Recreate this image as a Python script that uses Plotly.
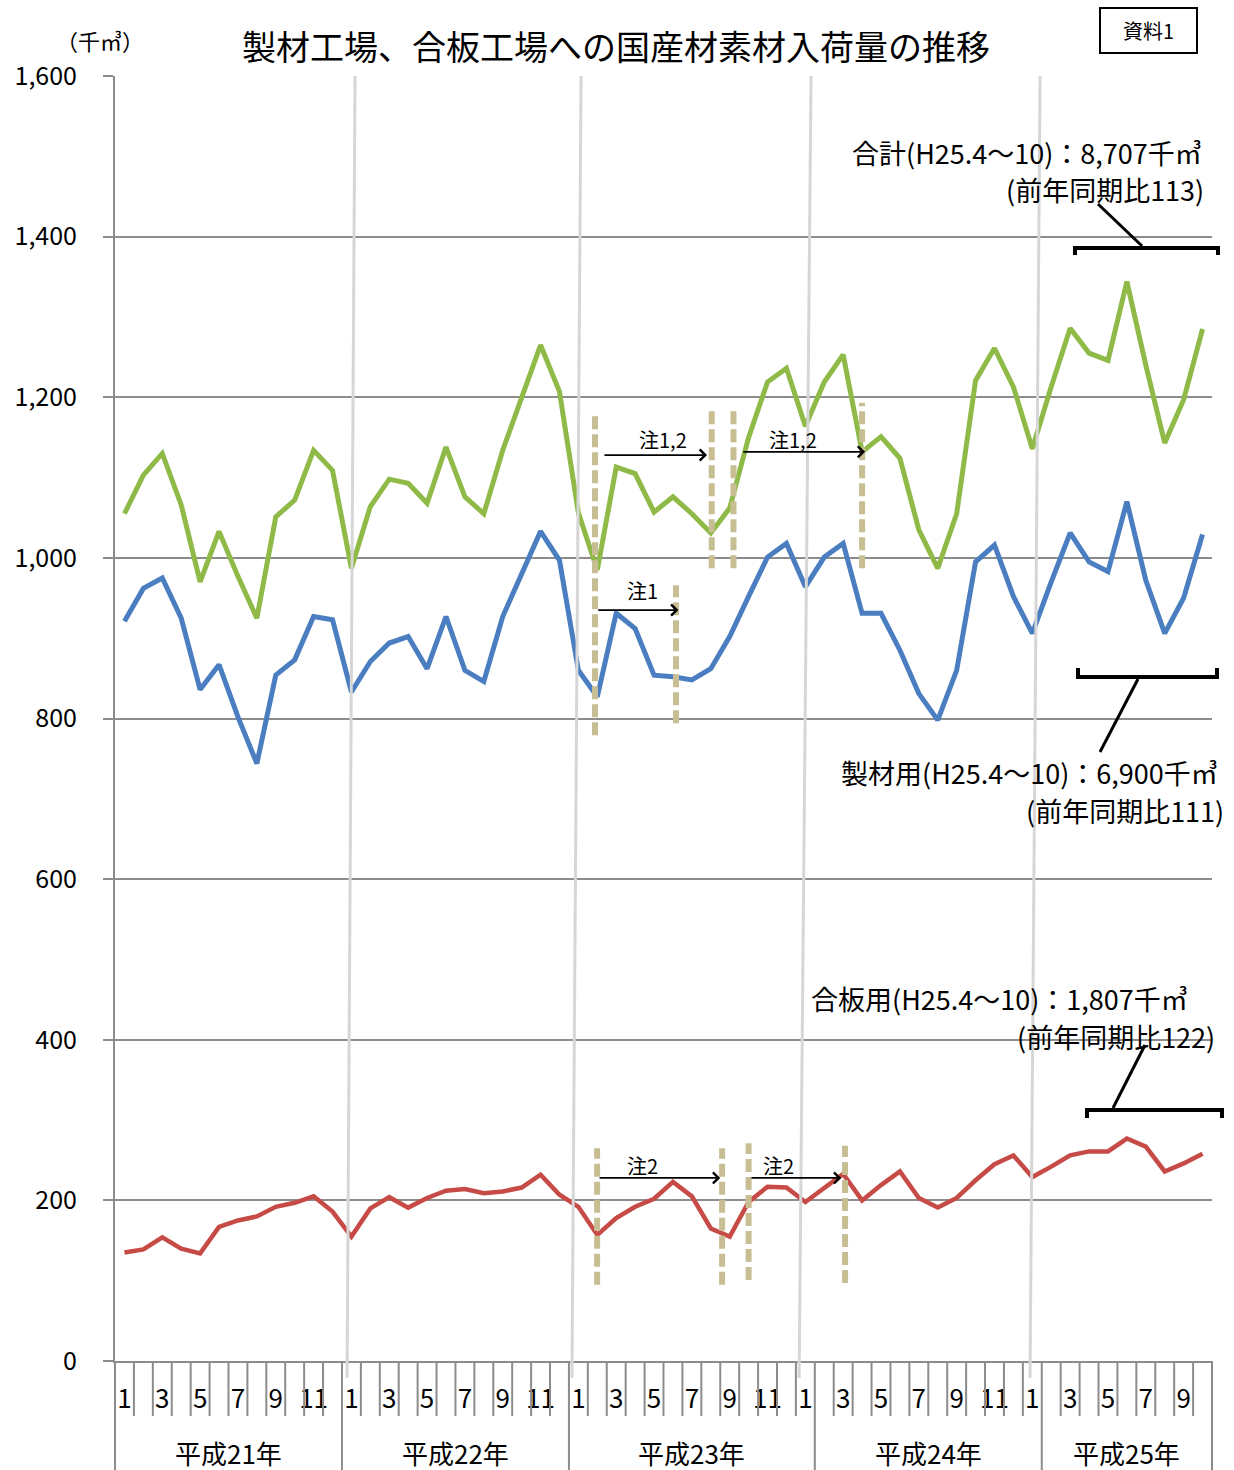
import plotly.graph_objects as go

# ---------------- data ----------------
years = ["平成21年", "平成22年", "平成23年", "平成24年", "平成25年"]
months_per_year = [12, 12, 12, 12, 10]

total = [1055, 1103, 1130, 1066, 970, 1033, 977, 925, 1051, 1072, 1134, 1109,
         987, 1064, 1098, 1093, 1068, 1138, 1076, 1055, 1134, 1201, 1265, 1207,
         1056, 985, 1113, 1105, 1057, 1076, 1055, 1031, 1062, 1150, 1219, 1236,
         1164, 1219, 1253, 1132, 1151, 1124, 1035, 987, 1055, 1221, 1261, 1213,
         1136, 1213, 1286, 1255, 1246, 1344, 1240, 1143, 1197, 1285]
sawmill = [921, 962, 975, 925, 836, 867, 802, 744, 854, 873, 927, 923,
           833, 871, 894, 902, 862, 927, 860, 846, 927, 981, 1033, 997,
           860, 827, 931, 912, 854, 852, 848, 862, 902, 952, 1001, 1018,
           964, 1001, 1018, 931, 931, 885, 831, 798, 860, 995, 1016, 952,
           906, 970, 1031, 995, 983, 1070, 972, 906, 950, 1029]
plywood = [135, 139, 154, 140, 134, 167, 175, 180, 192, 197, 205, 186,
           155, 190, 204, 191, 203, 212, 214, 209, 211, 216, 232, 207,
           192, 157, 178, 192, 202, 223, 205, 165, 155, 198, 217, 216,
           198, 215, 233, 200, 219, 236, 203, 191, 203, 225, 245, 256,
           229, 242, 256, 261, 261, 277, 267, 236, 246, 258]

y_ticks = [0, 200, 400, 600, 800, 1000, 1200, 1400, 1600]

# month index and labels
month_no = []
for n in months_per_year:
    month_no += list(range(1, n + 1))
x = list(range(len(month_no)))
tickvals = [i for i, m in enumerate(month_no) if m % 2 == 1]
ticktext = [str(month_no[i]) for i in tickvals]

FONT = "Noto Sans CJK JP, Noto Sans, sans-serif"
GREEN = "#8fba48"
BLUE = "#4a7ec0"
RED = "#c64a45"
TAN = "#c8be93"
GRID = "#8c8c8c"

# plot area in pixels (for decorations)
L, R, T, B = 115, 1212, 76, 1361


def PX(px):
    return (px - L) / (R - L)


def PY(py):
    return (B - py) / (B - T)


fig = go.Figure()
for name, vals, col, w in [("合計", total, GREEN, 5),
                           ("製材用", sawmill, BLUE, 5),
                           ("合板用", plywood, RED, 4.5)]:
    fig.add_trace(go.Scatter(x=x, y=vals, mode="lines", name=name,
                             line=dict(color=col, width=w), hoverinfo="skip"))

shapes = []
# month tick separators below axis
year_bounds = [11.5, 23.5, 36.5, 48.5]
for k in range(len(x) - 1):
    xv = k + 0.5
    if xv in year_bounds:
        continue
    shapes.append(dict(type="line", xref="x", yref="paper", x0=xv, x1=xv,
                       y0=0, y1=PY(1416), line=dict(color=GRID, width=2)))
for xv in year_bounds:
    shapes.append(dict(type="line", xref="x", yref="paper", x0=xv, x1=xv,
                       y0=0, y1=PY(1472), line=dict(color=GRID, width=2)))
for xp in [0, 1]:
    shapes.append(dict(type="line", xref="paper", yref="paper", x0=xp, x1=xp,
                       y0=0, y1=PY(1472), line=dict(color=GRID, width=2)))

# light slanted year separators
for xt, xb in [(12.19, 11.77), (24.14, 23.66), (36.30, 35.67), (48.41, 47.88)]:
    shapes.append(dict(type="line", xref="x", yref="paper", x0=xt, x1=xb,
                       y0=1, y1=PY(1378), line=dict(color="#d6d6d6", width=3),
                       layer="above"))

# tan dashed lines (notes)
for xv, y0, y1 in [(24.88, 779, 1180), (31.05, 987, 1187), (32.2, 987, 1187),
                   (39.0, 987, 1193), (29.16, 794, 966),
                   (24.99, 95, 265), (31.6, 95, 265), (33.0, 101, 271),
                   (38.1, 97, 268)]:
    shapes.append(dict(type="line", xref="x", yref="y", x0=xv, x1=xv,
                       y0=y0, y1=y1, layer="above",
                       line=dict(color=TAN, width=6, dash="13px,5px")))

# brackets
def bracket(x0, x1, yb, ye):
    return dict(type="path", xref="paper", yref="paper",
                path=f"M{PX(x0)},{PY(ye)} L{PX(x0)},{PY(yb)} L{PX(x1)},{PY(yb)} L{PX(x1)},{PY(ye)}",
                line=dict(color="black", width=4), layer="above")


shapes.append(bracket(1075, 1218, 248, 255))
shapes.append(bracket(1078, 1217, 677, 668))
shapes.append(bracket(1087, 1222, 1110, 1118))
for (a, b), (c, d) in [((1142, 246), (1098, 204)), ((1138, 679), (1100, 752)),
                       ((1113, 1108), (1145, 1045))]:
    shapes.append(dict(type="line", xref="paper", yref="paper",
                       x0=PX(a), y0=PY(b), x1=PX(c), y1=PY(d),
                       line=dict(color="black", width=3)))

# 資料1 box
shapes.append(dict(type="rect", xref="paper", yref="paper",
                   x0=PX(1100), x1=PX(1197), y0=PY(8), y1=PY(53),
                   line=dict(color="black", width=2)))

annotations = []
# year labels
for label, xc in zip(years, [5.5, 17.5, 30.0, 42.5, 53.0]):
    annotations.append(dict(text=label, x=xc, xref="x", y=PY(1452), yref="paper",
                            showarrow=False, font=dict(size=26, color="black"),
                            xanchor="center", yanchor="middle"))

# arrows
for (xh, yh, xt, yt) in [(30.80, 1128, 25.30, 1128), (39.16, 1132, 32.64, 1132),
                         (29.29, 935, 24.97, 935),
                         (31.5, 228, 25.04, 228), (37.9, 228, 33.07, 228)]:
    annotations.append(dict(text="", x=xh, y=yh, ax=xt, ay=yt, xref="x", yref="y",
                            axref="x", ayref="y", showarrow=True, arrowhead=4,
                            arrowsize=1.2, arrowwidth=1.8, arrowcolor="black"))
for txt, xv, yv in [("注1,2", 28.48, 1147), ("注1,2", 35.35, 1147), ("注1", 27.4, 960),
                    ("注2", 27.4, 243), ("注2", 34.56, 243)]:
    annotations.append(dict(text=txt, x=xv, y=yv, xref="x", yref="y", showarrow=False,
                            font=dict(size=20, color="black")))

# summary labels
for txt, xr, yc in [("合計(H25.4〜10)：8,707千㎥", 1204, 152),
                    ("(前年同期比113)", 1206, 189),
                    ("製材用(H25.4〜10)：6,900千㎥", 1220, 772),
                    ("(前年同期比111)", 1226, 810),
                    ("合板用(H25.4〜10)：1,807千㎥", 1190, 998),
                    ("(前年同期比122)", 1217, 1036)]:
    annotations.append(dict(text=txt, x=PX(xr), y=PY(yc), xref="paper", yref="paper",
                            xanchor="right", yanchor="middle", showarrow=False,
                            font=dict(size=27, color="black")))

# title and misc text
annotations.append(dict(text="製材工場、合板工場への国産材素材入荷量の推移",
                        x=PX(616), y=PY(45), xref="paper", yref="paper",
                        showarrow=False, font=dict(size=34, color="black"),
                        xanchor="center", yanchor="middle"))
annotations.append(dict(text="（千㎥）", x=PX(100), y=PY(40), xref="paper", yref="paper",
                        showarrow=False, font=dict(size=22, color="black"),
                        xanchor="center", yanchor="middle"))
annotations.append(dict(text="資料1", x=PX(1148), y=PY(31), xref="paper", yref="paper",
                        showarrow=False, font=dict(size=20, color="black"),
                        xanchor="center", yanchor="middle"))

fig.update_layout(
    width=1234, height=1470,
    margin=dict(l=L, r=1234 - R, t=T, b=1470 - B),
    paper_bgcolor="white", plot_bgcolor="white",
    showlegend=False,
    font=dict(family=FONT, color="black"),
    shapes=shapes, annotations=annotations,
    xaxis=dict(range=[-0.5, len(x) - 0.5], tickvals=tickvals, ticktext=ticktext,
               showgrid=False, zeroline=False, showline=True, linecolor=GRID,
               linewidth=2, ticks="", tickfont=dict(size=26),
               ticklabelstandoff=14),
    yaxis=dict(range=[0, 1600], tickvals=y_ticks, tickformat=",d",
               showgrid=True, gridcolor=GRID, gridwidth=2, zeroline=False,
               showline=True, linecolor=GRID, linewidth=2, ticks="outside",
               ticklen=10, tickwidth=2, tickcolor=GRID, tickfont=dict(size=25),
               ticklabelstandoff=21),
)

fig.write_html("out.html")
